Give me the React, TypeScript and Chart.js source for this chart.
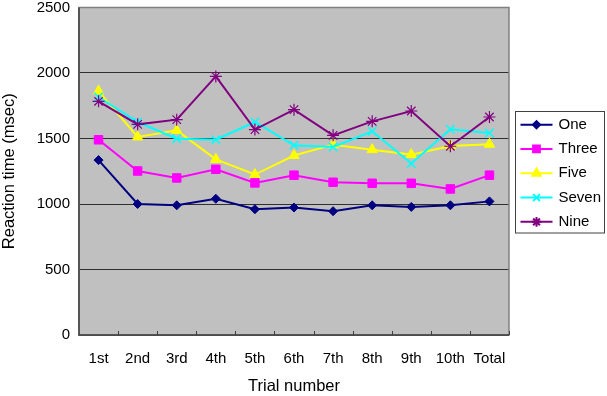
import React, { useEffect, useRef } from 'react';
import { Chart, registerables } from 'chart.js';
import { drawPoint } from 'chart.js/helpers';
Chart.register(...registerables);

const categories = ['1st', '2nd', '3rd', '4th', '5th', '6th', '7th', '8th', '9th', '10th', 'Total'];
const seriesNames = ['One', 'Three', 'Five', 'Seven', 'Nine'];
const one = [1335, 1000, 990, 1040, 960, 973, 945, 990, 978, 990, 1020];
const three = [1490, 1252, 1199, 1265, 1161, 1220, 1166, 1158, 1158, 1115, 1220];
const five = [1862, 1512, 1562, 1341, 1225, 1370, 1453, 1415, 1377, 1443, 1456];
const seven = [1817, 1626, 1499, 1491, 1626, 1448, 1435, 1555, 1309, 1570, 1542];
const nine = [1784, 1608, 1644, 1974, 1568, 1720, 1524, 1631, 1710, 1441, 1664];
const yMin = 0;
const yMax = 2500;
const yStep = 500;

const FONT = "'Liberation Sans', Arial, sans-serif";

const plotPlugin = {
  id: 'plotBg',
  beforeDraw(chart: any) {
    const { ctx, chartArea: a } = chart;
    ctx.save();
    ctx.fillStyle = '#C0C0C0';
    ctx.fillRect(a.left, a.top, a.right - a.left, a.bottom - a.top);
    ctx.restore();
  },
  beforeDatasetsDraw(chart: any) {
    const { ctx, chartArea: a } = chart;
    ctx.save();
    ctx.strokeStyle = '#808080';
    ctx.lineWidth = 1.5;
    ctx.strokeRect(a.left, a.top, a.right - a.left, a.bottom - a.top);
    ctx.strokeStyle = '#404040';
    ctx.lineWidth = 1.5;
    ctx.beginPath();
    ctx.moveTo(a.left, a.top);
    ctx.lineTo(a.left, a.bottom);
    ctx.lineTo(a.right, a.bottom);
    ctx.stroke();
    const n = categories.length;
    const w = (a.right - a.left) / n;
    ctx.lineWidth = 1;
    ctx.beginPath();
    for (let i = 1; i <= n; i++) {
      const x = Math.round(a.left + i * w) + 0.5;
      ctx.moveTo(x, a.bottom);
      ctx.lineTo(x, a.bottom - 4);
    }
    ctx.stroke();
    ctx.restore();
  },
  afterDraw(chart: any) {
    const { ctx, chartArea: a } = chart;
    const left = a.right + 6.5;
    const width = 89;
    const rowH = 24.3;
    const count = chart.data.datasets.length;
    const height = rowH * count;
    const top = Math.round((a.top + a.bottom) / 2 - height / 2) + 0.5;
    ctx.save();
    ctx.fillStyle = '#FFFFFF';
    ctx.fillRect(left, top, width, height);
    ctx.strokeStyle = '#404040';
    ctx.lineWidth = 1;
    ctx.strokeRect(left, top, width, height);
    chart.data.datasets.forEach((ds: any, i: number) => {
      const y = top + rowH / 2 + i * rowH + 1;
      ctx.strokeStyle = ds.borderColor;
      ctx.lineWidth = 2;
      ctx.beginPath();
      ctx.moveTo(left + 5, y);
      ctx.lineTo(left + 37, y);
      ctx.stroke();
      ctx.fillStyle = ds.pointBackgroundColor;
      ctx.strokeStyle = ds.pointBorderColor;
      drawPoint(ctx, { pointStyle: ds.pointStyle, radius: ds.pointRadius * 0.8, rotation: 0, borderWidth: ds.pointBorderWidth }, left + 21, y);
      ctx.fillStyle = '#000';
      ctx.font = `15px ${FONT}`;
      ctx.textBaseline = 'middle';
      ctx.textAlign = 'left';
      ctx.fillText(ds.label, left + 43, y);
    });
    ctx.restore();
  },
};

export default function App() {
  const ref = useRef<HTMLCanvasElement>(null);
  useEffect(() => {
    document.body.style.margin = '0';
    const styles = [
      { color: '#000080', style: 'rectRot', r: 4.5, bw: 1 },
      { color: '#FF00FF', style: 'rect', r: 6, bw: 1 },
      { color: '#FFFF00', style: 'triangle', r: 6, bw: 1 },
      { color: '#00FFFF', style: 'crossRot', r: 6, bw: 1.5 },
      { color: '#800080', style: 'star', r: 6, bw: 1.2 },
    ];
    const values = [one, three, five, seven, nine];
    const chart = new Chart(ref.current!, {
      type: 'line',
      data: {
        labels: categories,
        datasets: seriesNames.map((name, i) => ({
          label: name,
          data: values[i],
          borderColor: styles[i].color,
          backgroundColor: styles[i].color,
          pointBackgroundColor: styles[i].color,
          pointBorderColor: styles[i].color,
          pointStyle: styles[i].style as any,
          pointRadius: styles[i].r,
          pointBorderWidth: styles[i].bw,
          borderWidth: 2,
          tension: 0,
          fill: false,
          order: seriesNames.length - i,
        })),
      },
      options: {
        animation: false,
        responsive: false,
        maintainAspectRatio: false,
        devicePixelRatio: 1,
        layout: { padding: { top: 7, right: 98, left: 0, bottom: 0 } },
        plugins: {
          legend: { display: false },
          tooltip: { enabled: false },
        },
        scales: {
          x: {
            type: 'category',
            offset: true,
            grid: { display: false },
            border: { display: false },
            ticks: { color: '#000', font: { family: FONT, size: 15 }, padding: 7, maxRotation: 0, autoSkip: false },
            title: { display: true, text: 'Trial number', color: '#000', font: { family: FONT, size: 16.5 }, padding: { top: 0, bottom: 0 } },
            afterFit(scale: any) { scale.height = 61; },
          },
          y: {
            min: yMin,
            max: yMax,
            ticks: { stepSize: yStep, color: '#000', font: { family: FONT, size: 15 }, padding: 9, callback: (v: any) => String(v) },
            grid: { color: '#303030', lineWidth: 1, drawTicks: false },
            border: { display: false },
            title: { display: true, text: 'Reaction time (msec)', color: '#000', font: { family: FONT, size: 16.5 }, padding: { top: 0, bottom: 0 } },
            afterFit(scale: any) {
              scale.width = 79;
              scale.paddingTop = 0;
              scale.paddingBottom = 0;
            },
          },
        },
      },
      plugins: [plotPlugin],
    });
    return () => chart.destroy();
  }, []);
  return (
    <div style={{ width: 607, height: 396 }}>
      <canvas ref={ref} width={607} height={396} style={{ display: 'block' }} />
    </div>
  );
}
